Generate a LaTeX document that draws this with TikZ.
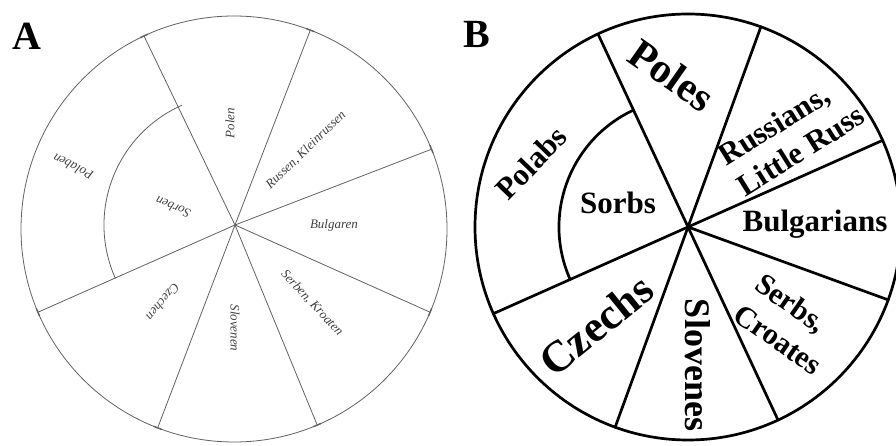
\documentclass[tikz,border=0pt]{standalone}
\usepackage{fontspec}
\setmainfont{Liberation Serif}
\begin{document}
\begin{tikzpicture}[x=1pt, y=1pt, line join=round, line cap=round,
	sketch/.style={draw=black!62, line width=0.8pt},
	wheel/.style={draw=black, line width=2.7pt},
	oldtag/.style={font=\fontsize{13}{13}\selectfont\itshape, text=black!75, inner sep=0pt},
	newtag/.style={font=\fontsize{31}{36}\selectfont\bfseries, inner sep=0pt, align=left},
	panel/.style={font=\fontsize{40}{40}\selectfont\bfseries, inner sep=0pt, anchor=base west}]
	
	\useasboundingbox (0,0) rectangle (896,445);
	\clip (0,0) rectangle (896,445);
	
	% A: the scanned sketch
	\coordinate (ca) at (234,216);
	\coordinate (hubA) at (235,220);
	\draw[sketch] (ca) circle (213);
	
	\foreach \a/\b in {115/293, 69/249, 22/203} {
		\draw[sketch] ([shift={(\a:213)}]ca) -- (hubA) -- ([shift={(\b:213)}]ca);
	}
	\draw[sketch] (hubA) -- ([shift={(-23:213)}]ca);
	\draw[sketch] ([shift={(114:131)}]hubA) arc[start angle=114, end angle=204, radius=131];
	
	\foreach \a in {115, 293, 69, 249, 22, 203, -23} {
		\draw[sketch, line width=1.4pt] ([shift={(\a:213)}]ca) ++(\a+90:4) -- ++(\a-90:8);
	}
	
	\foreach \txt/\x/\y/\r in {Polen/230/322/90, Bulgaren/334/220/0, Slovenen/235/117/-90,
		Czechen/163/143/230, Sorben/173/238/157, Polaben/73/278/153} {
		\node[oldtag, rotate=\r] (a-\txt) at (\x,\y) {\txt};
	}
	\node[oldtag, rotate=44] (a-russen) at (306,295) {Russen, Kleinrussen};
	\node[oldtag, rotate=-47] (a-serben) at (312,142) {Serben, Kroaten};
	
	\node[panel] (lblA) at (12,395) {A};
	
	% B: the redrawn wheel
	\coordinate (cb) at (688,218);
	\draw[wheel] (cb) circle (213);
	
	\foreach \a in {115, 70, 24} {
		\draw[wheel] ([shift={(\a:213)}]cb) -- ([shift={(\a+180:213)}]cb);
	}
	\draw[wheel] (cb) -- ([shift={(-20:213)}]cb);
	\draw[wheel] ([shift={(115:129)}]cb) arc[start angle=115, end angle=204, radius=129];
	
	\node[newtag, font=\fontsize{42}{42}\selectfont\bfseries, rotate=-35] (poles) at (672,370) {Poles};
	\node[newtag, rotate=32] (russ) at (791,310) {Russians,\\Little Russ};
	\node[newtag] (bulg) at (815,221) {Bulgarians};
	\node[newtag, font=\fontsize{30}{37}\selectfont\bfseries, rotate=-35] (serbs) at (789,121) {Serbs,\\Croates};
	\node[newtag, font=\fontsize{36}{36}\selectfont\bfseries, rotate=-90] (slov) at (698,80) {Slovenes};
	\node[newtag, font=\fontsize{44}{44}\selectfont\bfseries, rotate=39] (czech) at (596,120) {Czechs};
	\node[newtag] (sorbs) at (618,242) {Sorbs};
	\node[newtag, rotate=46] (polabs) at (531,282) {Polabs};
	
	\node[panel] (lblB) at (463,397) {B};
	
\end{tikzpicture}
\end{document}
